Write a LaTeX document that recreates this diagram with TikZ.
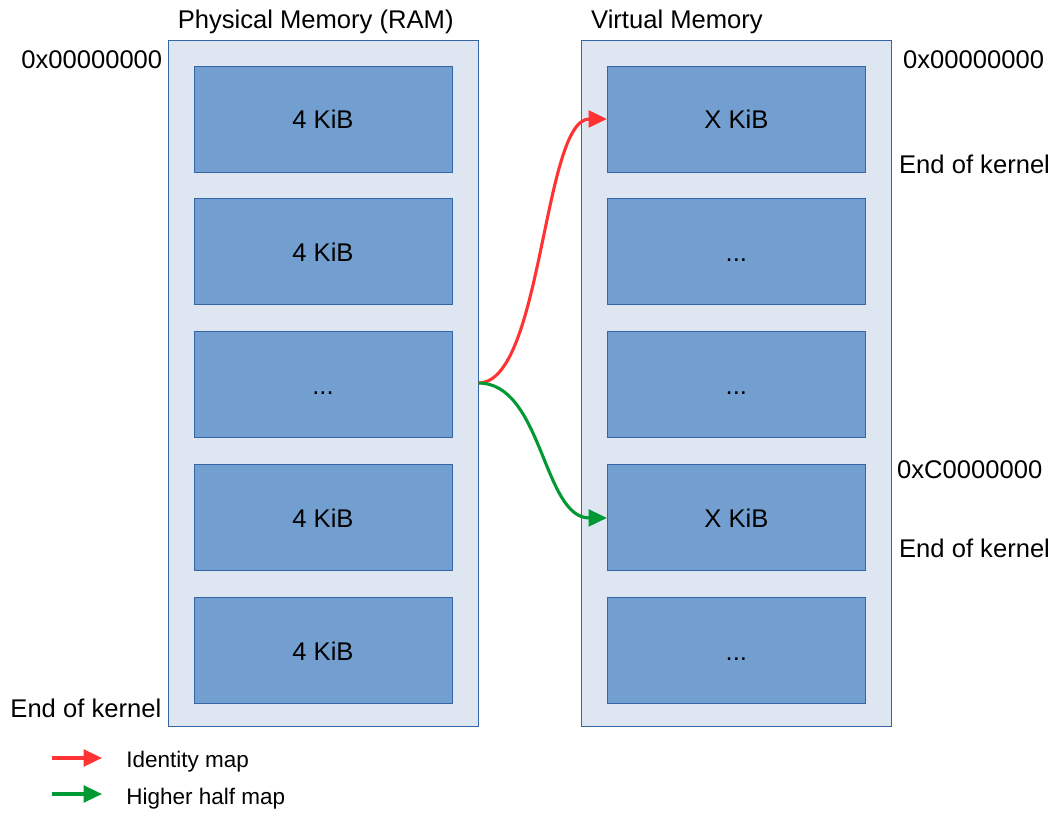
\documentclass[tikz,border=0pt]{standalone}
\usepackage{fontspec}
\setmainfont{Liberation Sans}
\usetikzlibrary{shapes, arrows.meta}

\definecolor{memFill}{HTML}{DEE6F2}
\definecolor{memLine}{HTML}{3465A4}
\definecolor{pageFill}{HTML}{729FCF}
\definecolor{identityRed}{HTML}{FF3333}
\definecolor{higherGreen}{HTML}{009933}

\begin{document}
\begin{tikzpicture}[
    memWidth/.style={minimum width=7.75cm},
    memHeight/.style={minimum height=17.15cm},
    pageWidth/.style={minimum width=6.45cm},
    pageHeight/.style={minimum height=2.65cm},
    mem/.style={draw=memLine, fill=memFill, line width=0.7pt},
    page/.style={draw=memLine, fill=pageFill, line width=0.7pt, pageWidth, pageHeight},
    mapArrow/.style={line width=2.2pt, -{Triangle[length=0.46cm, width=0.42cm]}},
    legendText/.style={font=\fontsize{16}{19}\selectfont, text height=0.4cm},
    every node/.style={
        text centered,
        inner sep=0pt,
        text height=0.46cm,
        text depth=0pt,
        font=\fontsize{18.2}{22}\selectfont
        }
        ]
    \useasboundingbox (0, 0) rectangle (26.4, -20.4);

    \node[memWidth, memHeight, mem] (ram) at (8.075, -9.575) {};
    \node[memWidth, memHeight, mem] (virt) at (18.41, -9.575) {};

    \node[anchor=west, xshift=0.25cm, yshift=0.5cm] (ramTitle) at (ram.north west) {Physical Memory (RAM)};
    \node[anchor=west, xshift=0.25cm, yshift=0.5cm] (virtTitle) at (virt.north west) {Virtual Memory};

    % physical pages
    \node[page, anchor=north, yshift=-0.65cm] (ram1) at (ram.north) {4 KiB};
    \node[page, anchor=north, yshift=-0.65cm] (ram2) at (ram1.south) {4 KiB};
    \node[page, anchor=north, yshift=-0.65cm] (ram3) at (ram2.south) {...};
    \node[page, anchor=north, yshift=-0.65cm] (ram4) at (ram3.south) {4 KiB};
    \node[page, anchor=north, yshift=-0.65cm] (ram5) at (ram4.south) {4 KiB};

    % virtual pages
    \node[page, anchor=north, yshift=-0.65cm] (virt1) at (virt.north) {X KiB};
    \node[page, anchor=north, yshift=-0.65cm] (virt2) at (virt1.south) {...};
    \node[page, anchor=north, yshift=-0.65cm] (virt3) at (virt2.south) {...};
    \node[page, anchor=north, yshift=-0.65cm] (virt4) at (virt3.south) {X KiB};
    \node[page, anchor=north, yshift=-0.65cm] (virt5) at (virt4.south) {...};

    % addresses
    \node[anchor=east, xshift=-0.125cm, yshift=-0.5cm] (ramStart) at (ram.north west) {0x00000000};
    \node[anchor=east, xshift=-0.15cm, yshift=0.45cm] (ramEnd) at (ram.south west) {End of kernel};
    \node[anchor=west, xshift=0.275cm, yshift=-0.5cm] (virtStart) at (virt.north east) {0x00000000};
    \node[anchor=west, xshift=0.175cm, yshift=-3.125cm] (virtEndLow) at (virt.north east) {End of kernel};
    \node[anchor=west, xshift=0.125cm, yshift=-10.75cm] (virtHigh) at (virt.north east) {0xC0000000};
    \node[anchor=west, xshift=0.175cm, yshift=-12.725cm] (virtEndHigh) at (virt.north east) {End of kernel};

    \draw[mapArrow, identityRed] (ram.east) .. controls +(1.6, 0) and +(-1.6, 0) .. (virt1.west);
    \draw[mapArrow, higherGreen] (ram.east) .. controls +(1.6, 0) and +(-1.6, 0) .. (virt4.west);

    % legend
    \coordinate (idStart) at (1.3, -18.95);
    \coordinate (idEnd) at (2.55, -18.95);
    \coordinate (hhStart) at (1.3, -19.85);
    \coordinate (hhEnd) at (2.55, -19.85);
    \node[legendText, anchor=west] (idText) at (3.15, -18.975) {Identity map};
    \node[legendText, anchor=west] (hhText) at (3.15, -19.91) {Higher half map};
    \draw[mapArrow, identityRed] (idStart) -- (idEnd);
    \draw[mapArrow, higherGreen] (hhStart) -- (hhEnd);
\end{tikzpicture}
\end{document}
